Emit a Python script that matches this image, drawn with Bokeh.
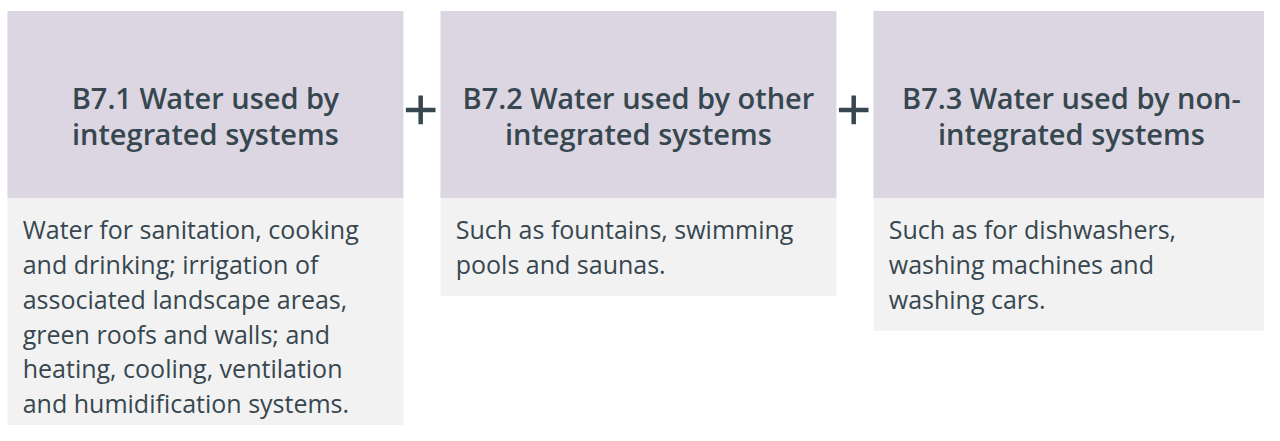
from bokeh.plotting import figure
from bokeh.models import Range1d, ColumnDataSource
from bokeh.core.properties import value
from bokeh.embed import file_html
from bokeh.resources import INLINE

# ---- content ----
codes = ["B7.1", "B7.2", "B7.3"]
title_lines = [
    ["B7.1 Water used by", "integrated systems"],
    ["B7.2 Water used by other", "integrated systems"],
    ["B7.3 Water used by non-", "integrated systems"],
]
desc_lines = [
    ["Water for sanitation, cooking", "and drinking; irrigation of",
     "associated landscape areas,", "green roofs and walls; and",
     "heating, cooling, ventilation", "and humidification systems."],
    ["Such as fountains, swimming", "pools and saunas."],
    ["Such as for dishwashers,", "washing machines and", "washing cars."],
]

# ---- layout / style (in reference-pixel coordinates) ----
W, H = 1264, 425
REF_W, REF_H = 1280, 441
X0, PITCH, BOX_W = 7, 438.5, 401
TOP, HEAD_BOTTOM = 11, 205
TITLE_LINE_H, LINE_H, PAD = 37, 36.2, 29
TITLE_BASE = 101
BODY_BASE = 237
TEXT_COLOR = "#37474f"
HEAD_COLOR = "#dcd6e2"
BODY_COLOR = "#f2f2f2"

p = figure(width=W, height=H, x_range=Range1d(0, REF_W), y_range=Range1d(REF_H, 0),
           output_backend="svg", toolbar_location=None, min_border=0,
           x_axis_location=None, y_axis_location=None)
p.grid.visible = False
p.outline_line_color = None
p.background_fill_color = "white"
p.border_fill_color = "white"

lefts = [X0 + i * PITCH for i in range(len(codes))]
rights = [l + BOX_W for l in lefts]
centers = [(l + r) / 2 for l, r in zip(lefts, rights)]
body_bottoms = [HEAD_BOTTOM + len(d) * LINE_H + PAD for d in desc_lines]

p.quad(left=lefts, right=rights, top=[TOP] * 3, bottom=[HEAD_BOTTOM] * 3,
       fill_color=HEAD_COLOR, line_color=None)
p.quad(left=lefts, right=rights, top=[HEAD_BOTTOM] * 3, bottom=body_bottoms,
       fill_color=BODY_COLOR, line_color=None)

# titles
tx, ty, tt = [], [], []
for c, lines in zip(centers, title_lines):
    for j, s in enumerate(lines):
        tx.append(c)
        ty.append(TITLE_BASE + j * TITLE_LINE_H)
        tt.append(s)
p.text(x="x", y="y", text="t", source=ColumnDataSource(dict(x=tx, y=ty, t=tt)),
       text_font=value("Open Sans SemiBold"), text_font_style="normal",
       text_font_size="29px", text_color=TEXT_COLOR,
       text_align="center", text_baseline="alphabetic")

# descriptions
dx, dy, dt = [], [], []
for l, lines in zip(lefts, desc_lines):
    for j, s in enumerate(lines):
        dx.append(l + 15.5)
        dy.append(BODY_BASE + j * LINE_H)
        dt.append(s)
p.text(x="x", y="y", text="t", source=ColumnDataSource(dict(x=dx, y=dy, t=dt)),
       text_font=value("Open Sans"), text_font_size="25px", text_color=TEXT_COLOR,
       text_align="left", text_baseline="alphabetic")

# plus signs between boxes
px = [r + 17.5 for r in rights[:-1]]
py = 113.5
p.segment(x0=[x - 15 for x in px], x1=[x + 15 for x in px], y0=[py] * 2, y1=[py] * 2,
          line_color=TEXT_COLOR, line_width=4.5, line_cap="butt")
p.segment(x0=px, x1=px, y0=[py - 15] * 2, y1=[py + 15] * 2,
          line_color=TEXT_COLOR, line_width=4.5, line_cap="butt")

open("out.html", "w").write(file_html(p, INLINE))
